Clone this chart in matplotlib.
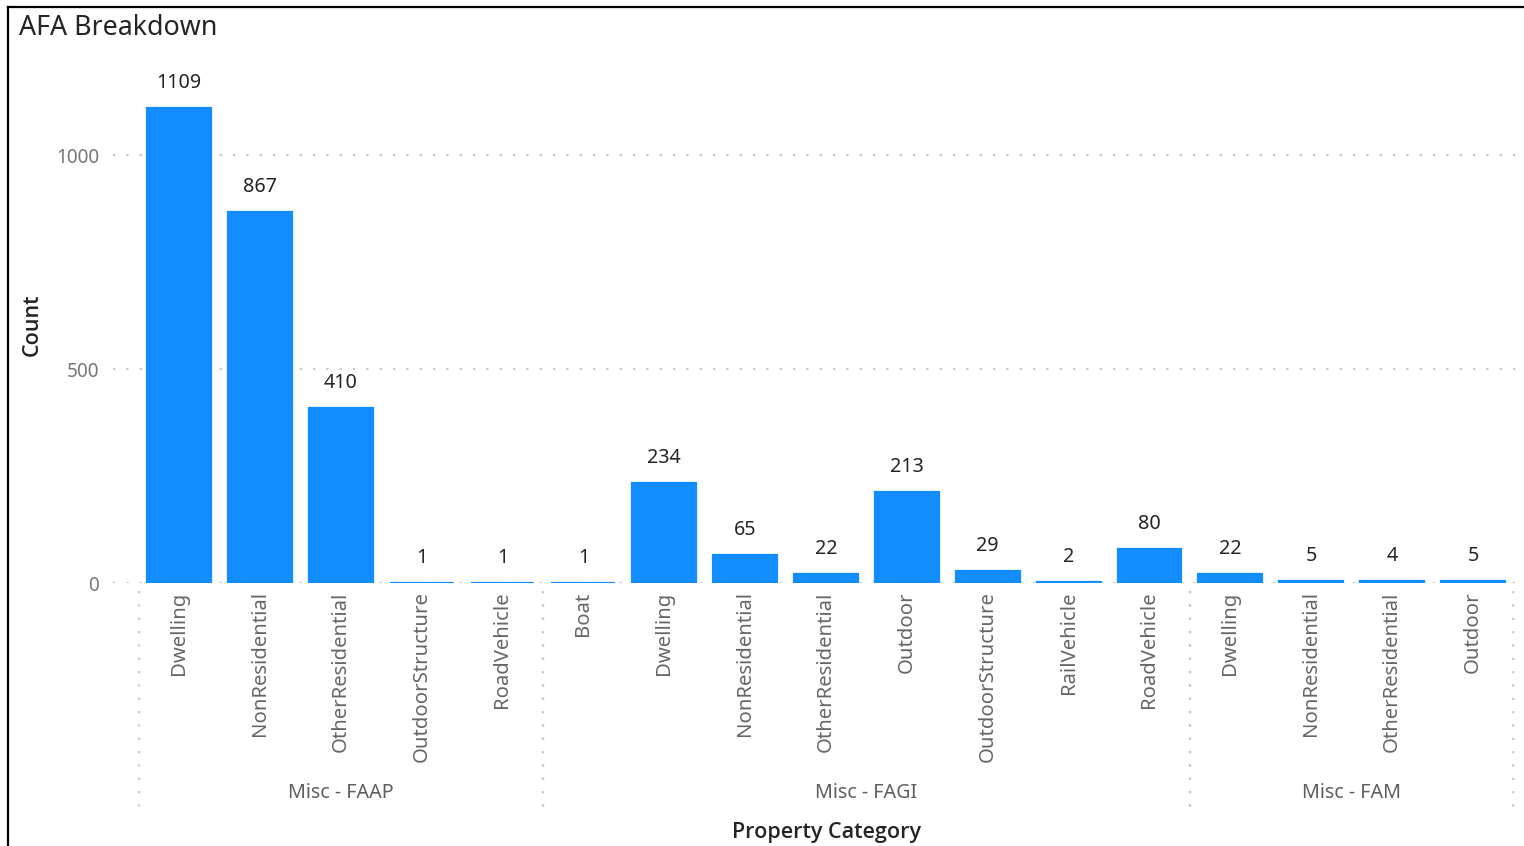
import matplotlib.pyplot as plt
from matplotlib.lines import Line2D
from matplotlib.transforms import blended_transform_factory

plt.rcParams['font.family'] = ['Noto Sans', 'DejaVu Sans']

# Counts per incident group and property category
groups = ["Misc - FAAP", "Misc - FAGI", "Misc - FAM"]
faap_cats = ["Dwelling", "NonResidential", "OtherResidential", "OutdoorStructure", "RoadVehicle"]
faap_counts = [1109, 867, 410, 1, 1]
fagi_cats = ["Boat", "Dwelling", "NonResidential", "OtherResidential", "Outdoor",
             "OutdoorStructure", "RailVehicle", "RoadVehicle"]
fagi_counts = [1, 234, 65, 22, 213, 29, 2, 80]
fam_cats = ["Dwelling", "NonResidential", "OtherResidential", "Outdoor"]
fam_counts = [22, 5, 4, 5]
y_ticks = [0, 500, 1000]

group_cats = [faap_cats, fagi_cats, fam_cats]
group_counts = [faap_counts, fagi_counts, fam_counts]

labels = [c for cats in group_cats for c in cats]
counts = [v for vals in group_counts for v in vals]
xs = list(range(len(counts)))

bar_color = "#118DFF"
W, H = 1524, 846
fig = plt.figure(figsize=(W / 100, H / 100), dpi=100)
ax = fig.add_axes([113 / W, 1 - 583 / H, 1409 / W, 523 / H])

ax.bar(xs, counts, width=0.79, color=bar_color, edgecolor=bar_color, linewidth=1.6, zorder=3)
for x, v in zip(xs, counts):
    ax.annotate(str(v), (x, v), xytext=(0, 18), textcoords="offset points",
                ha="center", va="center", fontsize=14.2, color="#252423")

ax.set_xlim(-0.816, 16.606)
ax.set_ylim(0, 1222)
ax.set_yticks(y_ticks)
ax.set_yticklabels([str(t) for t in y_ticks], fontsize=13.7, color="#777777")
ax.tick_params(axis="y", length=0, pad=10)
ax.set_xticks(xs)
ax.set_xticklabels(labels, rotation=90, fontsize=14.6, color="#666666", va="top")
ax.tick_params(axis="x", length=0, pad=6)
ax.grid(axis="y", color="#c8c8c8", linestyle=(0, (1, 5)), linewidth=1.6, zorder=0)
for s in ax.spines.values():
    s.set_visible(False)

# dotted separators between groups and group names below the category labels
tr = blended_transform_factory(ax.transData, fig.transFigure)
start = 0
for name, cats in zip(groups, group_cats):
    end = start + len(cats)
    for edge in (start - 0.5, end - 0.5):
        ax.add_line(Line2D([edge, edge], [1 - 591 / H, 1 - 808 / H], transform=tr,
                           color="#c8c8c8", linestyle=(0, (1, 5)), linewidth=1.6,
                           clip_on=False))
    ax.text((start + end - 1) / 2, 1 - 793 / H, name, transform=tr, ha="center",
            va="center", fontsize=14.2, color="#605E5C")
    start = end

title_font = ['Open Sans', 'Lato', 'DejaVu Sans']
fig.text(826 / W, 1 - 832 / H, "Property Category", ha="center", va="center",
         fontsize=15.5, fontweight="semibold", family=title_font, color="#252423")
fig.text(32 / W, 1 - 325 / H, "Count", ha="center", va="center", rotation=90,
         fontsize=15.5, fontweight="semibold", family=title_font, color="#252423")
fig.text(19 / W, 1 - 28 / H, "AFA Breakdown", ha="left", va="center",
         fontsize=19.3, color="#252423")

# frame lines along the top and left edges
fig.add_artist(Line2D([8 / W, 1], [1 - 7 / H, 1 - 7 / H], color="black", linewidth=1.6))
fig.add_artist(Line2D([8 / W, 8 / W], [0, 1 - 7 / H], color="black", linewidth=1.6))

fig.savefig("out.png", dpi=100)
